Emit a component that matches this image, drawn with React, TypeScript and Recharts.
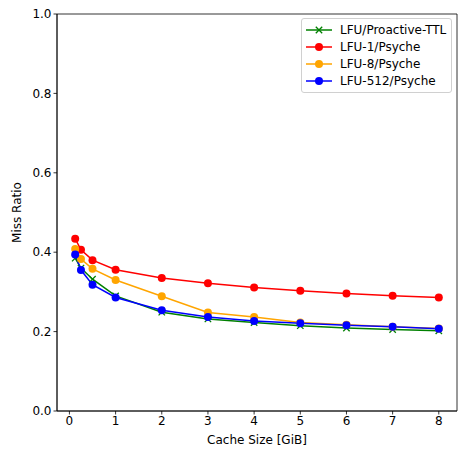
import React from "react";
import {
  LineChart,
  Line,
  XAxis,
  YAxis,
  ReferenceArea,
} from "recharts";

const sizes = [0.125, 0.25, 0.5, 1, 2, 3, 4, 5, 6, 7, 8];
const proactiveTtl = [0.385, 0.36, 0.332, 0.29, 0.249, 0.232, 0.223, 0.215, 0.209, 0.205, 0.202];
const lfu1 = [0.434, 0.406, 0.38, 0.356, 0.335, 0.322, 0.311, 0.303, 0.296, 0.29, 0.286];
const lfu8 = [0.408, 0.383, 0.358, 0.33, 0.289, 0.248, 0.237, 0.223, 0.217, 0.212, 0.208];
const lfu512 = [0.394, 0.355, 0.318, 0.286, 0.254, 0.237, 0.227, 0.221, 0.216, 0.212, 0.207];

const xTicks = [0, 1, 2, 3, 4, 5, 6, 7, 8];
const yTicks = [0, 0.2, 0.4, 0.6, 0.8, 1.0];
const xDomain = [-0.269, 8.394];

const series = [
  { key: "proactive", name: "LFU/Proactive-TTL", color: "green", marker: "x" },
  { key: "lfu1", name: "LFU-1/Psyche", color: "red", marker: "o" },
  { key: "lfu8", name: "LFU-8/Psyche", color: "orange", marker: "o" },
  { key: "lfu512", name: "LFU-512/Psyche", color: "blue", marker: "o" },
];

const rows = sizes.map((s, i) => ({
  size: s,
  proactive: proactiveTtl[i],
  lfu1: lfu1[i],
  lfu8: lfu8[i],
  lfu512: lfu512[i],
}));

const FONT = "'DejaVu Sans', sans-serif";
const FS = 12;

const CrossDot = (props: any) => {
  const { cx, cy, stroke } = props;
  if (cx == null || cy == null) return null;
  const d = 3.2;
  return (
    <g>
      <line x1={cx - d} y1={cy - d} x2={cx + d} y2={cy + d} stroke={stroke} strokeWidth={1.3} />
      <line x1={cx - d} y1={cy + d} x2={cx + d} y2={cy - d} stroke={stroke} strokeWidth={1.3} />
    </g>
  );
};

const LegendBox = () => (
  <div
    style={{
      position: "absolute",
      left: 301,
      top: 17.5,
      width: 151,
      boxSizing: "border-box",
      border: "1px solid #d0d0d0",
      borderRadius: 3,
      background: "rgba(255,255,255,0.8)",
      padding: "3px 4px 2px 4px",
      fontFamily: FONT,
      fontSize: FS,
      color: "#000",
    }}
  >
    {series.map((s) => (
      <div key={s.key} style={{ display: "flex", alignItems: "center", height: 17.1 }}>
        <svg width={26} height={12} style={{ marginRight: 8 }}>
          <line x1={0} y1={6} x2={26} y2={6} stroke={s.color} strokeWidth={1.5} />
          {s.marker === "o" ? (
            <circle cx={13} cy={6} r={4} fill={s.color} />
          ) : (
            <CrossDot cx={13} cy={6} stroke={s.color} />
          )}
        </svg>
        <span>{s.name}</span>
      </div>
    ))}
  </div>
);

export default function App() {
  return (
    <div style={{ position: "absolute", left: 0, top: 0, width: 459, height: 452, background: "#fff" }}>
      <LineChart
        width={459}
        height={452}
        data={rows}
        margin={{ top: 14, right: 2, bottom: 11, left: 7 }}
      >
        <XAxis
          dataKey="size"
          type="number"
          domain={xDomain}
          ticks={xTicks}
          allowDataOverflow
          tickSize={3.5}
          height={30}
          stroke="#000"
          strokeWidth={0.8}
          tick={{ fill: "#000", fontSize: FS, fontFamily: FONT }}
          label={{
            value: "Cache Size [GiB]",
            position: "insideBottom",
            offset: -3,
            fill: "#000",
            fontSize: FS,
            fontFamily: FONT,
          }}
        />
        <YAxis
          type="number"
          domain={[0, 1]}
          ticks={yTicks}
          tickFormatter={(v: number) => v.toFixed(1)}
          tickSize={3.5}
          width={50}
          stroke="#000"
          strokeWidth={0.8}
          tick={{ fill: "#000", fontSize: FS, fontFamily: FONT }}
          label={{
            value: "Miss Ratio",
            angle: -90,
            position: "insideLeft",
            offset: 10,
            style: { textAnchor: "middle" },
            fill: "#000",
            fontSize: FS,
            fontFamily: FONT,
          }}
        />
        <ReferenceArea
          x1={xDomain[0]}
          x2={xDomain[1]}
          y1={0}
          y2={1}
          fill="none"
          stroke="#000"
          strokeWidth={0.8}
          ifOverflow="visible"
        />
        {series.map((s) => (
          <Line
            key={s.key}
            dataKey={s.key}
            name={s.name}
            stroke={s.color}
            strokeWidth={1.5}
            isAnimationActive={false}
            dot={
              s.marker === "o"
                ? { r: 4, fill: s.color, stroke: s.color, strokeWidth: 0 }
                : (p: any) => <CrossDot key={p.index} cx={p.cx} cy={p.cy} stroke={s.color} />
            }
            activeDot={false}
          />
        ))}
      </LineChart>
      <LegendBox />
    </div>
  );
}
